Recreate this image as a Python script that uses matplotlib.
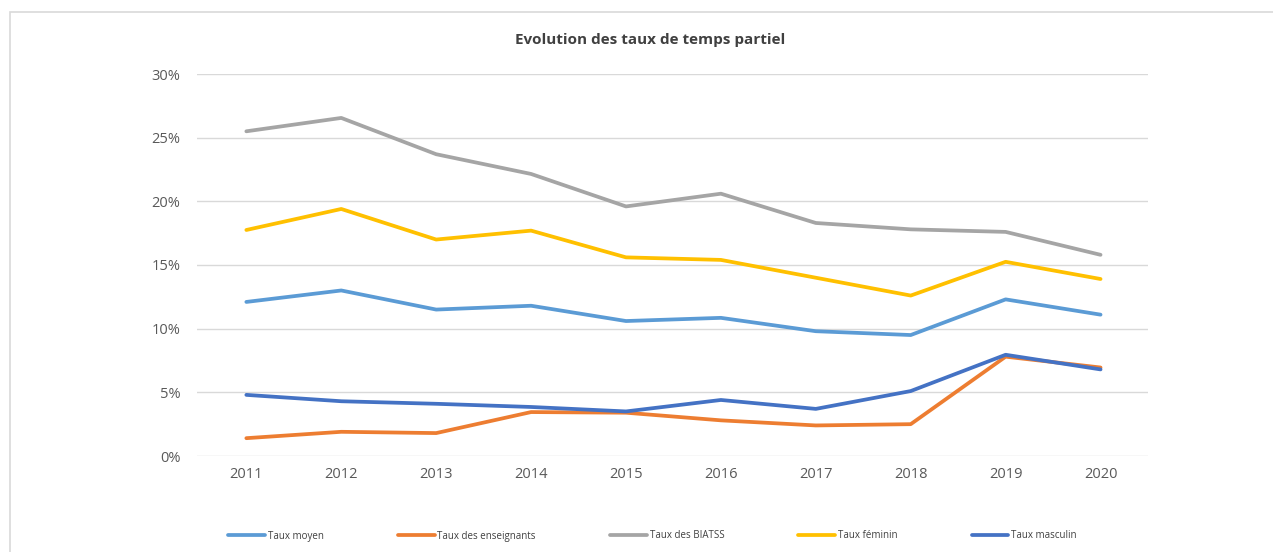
import matplotlib.pyplot as plt
from matplotlib.patches import Rectangle
from matplotlib.ticker import FuncFormatter

years = [2011, 2012, 2013, 2014, 2015, 2016, 2017, 2018, 2019, 2020]

taux_moyen = [12.1, 13.0, 11.5, 11.8, 10.6, 10.85, 9.8, 9.5, 12.3, 11.1]
taux_enseignants = [1.4, 1.9, 1.8, 3.45, 3.4, 2.8, 2.4, 2.5, 7.8, 6.95]
taux_biatss = [25.5, 26.55, 23.7, 22.15, 19.6, 20.6, 18.3, 17.8, 17.6, 15.8]
taux_feminin = [17.75, 19.4, 17.0, 17.7, 15.6, 15.4, 14.0, 12.6, 15.25, 13.9]
taux_masculin = [4.8, 4.3, 4.1, 3.85, 3.5, 4.4, 3.7, 5.1, 7.95, 6.8]

series = [
    ('Taux moyen', taux_moyen, '#5B9BD5'),
    ('Taux des enseignants', taux_enseignants, '#ED7D31'),
    ('Taux des BIATSS', taux_biatss, '#A5A5A5'),
    ('Taux féminin', taux_feminin, '#FFC000'),
    ('Taux masculin', taux_masculin, '#4472C4'),
]

plt.rcParams['font.family'] = ['Open Sans', 'DejaVu Sans']

fig = plt.figure(figsize=(12.73, 5.52), dpi=100)
# light chart frame like the Excel chart area
fig.patches.append(Rectangle((10 / 1273, -0.05), 1.1, 1 - 12 / 552 + 0.05,
                             transform=fig.transFigure, fill=False,
                             edgecolor='#D9D9D9', linewidth=1.2))

ax = fig.add_axes([197 / 1273, 1 - 456 / 552, (1148 - 197) / 1273, (456 - 74) / 552])

for name, vals, color in series:
    ax.plot(years, vals, color=color, linewidth=2.7, label=name,
            solid_joinstyle='round', solid_capstyle='round')

ax.set_xlim(2010.48, 2020.5)
ax.set_ylim(0, 30)
ax.set_yticks(range(0, 31, 5))
ax.set_xticks(years)
ax.yaxis.set_major_formatter(FuncFormatter(lambda v, p: '{:d}%'.format(int(v))))
ax.grid(axis='y', color='#D9D9D9', linewidth=1)
ax.set_axisbelow(True)
for s in ax.spines.values():
    s.set_visible(False)
ax.tick_params(length=0, labelsize=10.5, labelcolor='#595959')
ax.tick_params(axis='y', pad=12)
ax.tick_params(axis='x', pad=8)

fig.text(650 / 1273, 1 - 40 / 552, 'Evolution des taux de temps partiel',
         ha='center', va='center', fontsize=11, fontweight='bold', color='#404040')

fig.legend(loc='center left', ncol=5, bbox_to_anchor=(228 / 1273, 1 - 536 / 552),
           frameon=False, fontsize=7, handlelength=3.8, handletextpad=0.3,
           columnspacing=7.6, borderpad=0, borderaxespad=0, labelcolor='#404040')

fig.savefig('out.png', dpi=100)
